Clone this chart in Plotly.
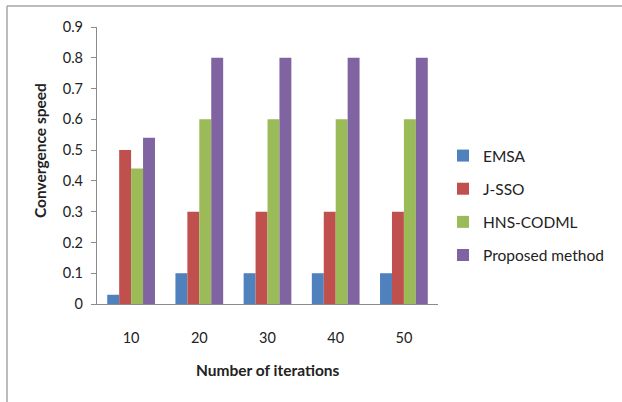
import plotly.graph_objects as go

iterations = ["10", "20", "30", "40", "50"]
emsa = [0.03, 0.1, 0.1, 0.1, 0.1]
j_sso = [0.5, 0.3, 0.3, 0.3, 0.3]
hns_codml = [0.44, 0.6, 0.6, 0.6, 0.6]
proposed = [0.54, 0.8, 0.8, 0.8, 0.8]

series = [
    ("EMSA", emsa, "#4F81BD"),
    ("J-SSO", j_sso, "#C0504D"),
    ("HNS-CODML", hns_codml, "#9BBB59"),
    ("Proposed method", proposed, "#8064A2"),
]

W, H = 622, 402
L, R, T, B = 97, 184, 27, 98
pw, ph = W - L - R, H - T - B


def px_x(x):
    return (x - L) / pw


def px_y(y):
    return (H - B - y) / ph


fig = go.Figure()
for i, (name, vals, color) in enumerate(series):
    fig.add_trace(go.Bar(
        x=iterations, y=vals, name=name, legendgroup=f"g{i}",
        marker=dict(color=color, line=dict(width=0)),
    ))

font = "Lato, 'Open Sans', sans-serif"
fig.update_layout(
    width=W, height=H,
    margin=dict(l=L, r=R, t=T, b=B),
    paper_bgcolor="white", plot_bgcolor="white",
    barmode="group", bargap=0.3, bargroupgap=0,
    font=dict(family=font, size=14, color="#222"),
    showlegend=True,
    legend=dict(
        x=px_x(443), y=px_y(139), xanchor="left", yanchor="top",
        font=dict(family=font, size=15.5, color="#222"),
        traceorder="grouped", tracegroupgap=10,
        itemwidth=30, bgcolor="rgba(0,0,0,0)",
    ),
    xaxis=dict(
        showline=True, linecolor="#8a8a8a", linewidth=1.2,
        ticks="", ticklabelstandoff=20, showgrid=False,
        tickfont=dict(size=14.5),
    ),
    yaxis=dict(
        range=[0, 0.9],
        showline=True, linecolor="#8a8a8a", linewidth=1.2,
        ticks="outside", ticklen=5, tickcolor="#8a8a8a",
        ticklabelstandoff=5, showgrid=False, zeroline=False,
        tickfont=dict(size=14.5),
    ),
    annotations=[
        dict(text="<b>Number of iterations</b>", x=px_x(268), y=px_y(370),
             xref="paper", yref="paper", showarrow=False,
             xanchor="center", yanchor="middle",
             font=dict(size=15.5, family=font, color="#222")),
        dict(text="<b>Convergence speed</b>", x=px_x(40), y=px_y(151),
             xref="paper", yref="paper", showarrow=False, textangle=-90,
             xanchor="center", yanchor="middle",
             font=dict(size=15.5, family=font, color="#222")),
    ],
    shapes=[
        dict(type="line", xref="paper", yref="paper",
             x0=px_x(7), y0=px_y(6), x1=px_x(622), y1=px_y(6),
             line=dict(color="#a6a6a6", width=1.5)),
        dict(type="line", xref="paper", yref="paper",
             x0=px_x(7), y0=px_y(6), x1=px_x(7), y1=px_y(402),
             line=dict(color="#a6a6a6", width=1.5)),
    ],
)
fig.update_yaxes(tickvals=[0, 0.1, 0.2, 0.3, 0.4, 0.5, 0.6, 0.7, 0.8, 0.9],
                 ticktext=["0", "0.1", "0.2", "0.3", "0.4", "0.5", "0.6", "0.7", "0.8", "0.9"])

fig.write_html("out.html")
